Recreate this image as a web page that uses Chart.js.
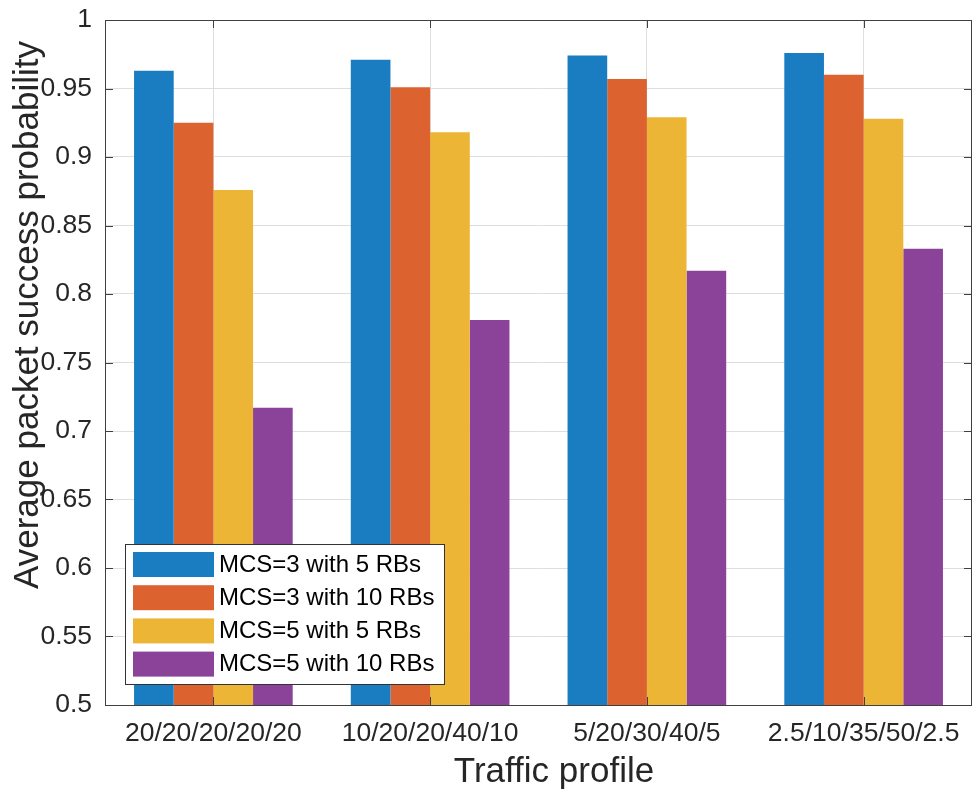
<!DOCTYPE html>
<html>
<head>
<meta charset="utf-8">
<script src="https://cdn.jsdelivr.net/npm/chart.js@4/dist/chart.umd.min.js"></script>
<style>
  html, body { margin: 0; padding: 0; background: #fff; }
  #wrap { width: 973px; height: 789px; }
</style>
</head>
<body>
<div id="wrap"><canvas id="c" width="973" height="789"></canvas></div>
<script>
// ===== Data =====
const profiles = ['20/20/20/20/20', '10/20/20/40/10', '5/20/30/40/5', '2.5/10/35/50/2.5'];
const seriesNames = ['MCS=3 with 5 RBs', 'MCS=3 with 10 RBs', 'MCS=5 with 5 RBs', 'MCS=5 with 10 RBs'];
const mcs3rb5  = [0.963, 0.971, 0.974, 0.976];
const mcs3rb10 = [0.925, 0.951, 0.957, 0.960];
const mcs5rb5  = [0.876, 0.918, 0.929, 0.928];
const mcs5rb10 = [0.717, 0.781, 0.817, 0.833];
const colors = ['#1b7dc1', '#dc6230', '#ecb535', '#8a4399'];
const xTitle = 'Traffic profile';
const yTitle = 'Average packet success probability';

const FONT = '"Liberation Sans", Arial, Helvetica, sans-serif';
const AXIS = '#404040';

// ===== Box, inward ticks, axis titles, legend =====
const matlabAxes = {
  id: 'matlabAxes',
  afterDatasetsDraw(chart) {
    const { ctx, chartArea: a, scales: { x, y } } = chart;
    ctx.save();
    ctx.strokeStyle = AXIS;
    ctx.lineWidth = 1;
    ctx.beginPath();
    y.ticks.forEach((t, i) => {
      const py = Math.round(y.getPixelForTick(i)) + 0.5;
      ctx.moveTo(a.left, py);  ctx.lineTo(a.left + 8, py);
      ctx.moveTo(a.right, py); ctx.lineTo(a.right - 8, py);
    });
    x.ticks.forEach((t, i) => {
      const px = Math.round(x.getPixelForTick(i)) + 0.5;
      ctx.moveTo(px, a.bottom); ctx.lineTo(px, a.bottom - 8);
      ctx.moveTo(px, a.top);    ctx.lineTo(px, a.top + 8);
    });
    ctx.stroke();
    ctx.strokeRect(Math.round(a.left) + 0.5, Math.round(a.top) + 0.5,
                   Math.round(a.right - a.left) - 1, Math.round(a.bottom - a.top));

    // axis titles (both sit a little off the plot centre in the original)
    ctx.font = '35px ' + FONT;
    ctx.fillStyle = '#262626';
    ctx.textAlign = 'center';
    ctx.textBaseline = 'middle';
    ctx.fillText(xTitle, 554, 772);
    ctx.translate(28, 315);
    ctx.rotate(-Math.PI / 2);
    ctx.fillText(yTitle, 0, 0);
    ctx.restore();
  },
  afterDraw(chart) {
    const { ctx } = chart;
    const bx = 125, by = 544, bw = 319, bh = 140;
    ctx.save();
    ctx.fillStyle = '#fff';
    ctx.fillRect(bx, by, bw, bh);
    ctx.strokeStyle = '#333';
    ctx.lineWidth = 1;
    ctx.strokeRect(bx + 0.5, by + 0.5, bw, bh);
    ctx.font = '24px ' + FONT;
    ctx.textBaseline = 'middle';
    ctx.textAlign = 'left';
    chart.data.datasets.forEach((ds, i) => {
      const top = 552 + i * 33.2;
      ctx.fillStyle = ds.backgroundColor;
      ctx.fillRect(133, top, 81, 25);
      ctx.fillStyle = '#000';
      ctx.fillText(ds.label, 219, top + 13);
    });
    ctx.restore();
  }
};

const seriesData = [mcs3rb5, mcs3rb10, mcs5rb5, mcs5rb10];

new Chart(document.getElementById('c'), {
  type: 'bar',
  data: {
    labels: profiles,
    datasets: seriesData.map((d, i) => ({
      label: seriesNames[i],
      data: d,
      backgroundColor: colors[i],
      borderWidth: 0,
      categoryPercentage: 0.732,
      barPercentage: 1
    }))
  },
  options: {
    responsive: false,
    animation: false,
    layout: { padding: { top: 20, right: 1, left: 0, bottom: 0 } },
    plugins: { legend: { display: false }, tooltip: { enabled: false } },
    scales: {
      x: {
        grid: { offset: false, color: '#dedede', drawTicks: false },
        border: { display: false },
        ticks: { color: '#262626', font: { family: FONT, size: 26.5 }, padding: 13, maxRotation: 0 },
        afterFit: s => { s.height = 84; s.paddingLeft = 0; s.paddingRight = 0; }
      },
      y: {
        min: 0.5, max: 1,
        grid: { color: '#dedede', drawTicks: false },
        border: { display: false },
        ticks: { stepSize: 0.05, color: '#262626', font: { family: FONT, size: 26.5 }, padding: 13,
                 callback: v => String(+v.toFixed(2)) },
        afterFit: s => { s.width = 105; s.paddingTop = 0; s.paddingBottom = 0; }
      }
    }
  },
  plugins: [matlabAxes]
});
</script>
</body>
</html>
